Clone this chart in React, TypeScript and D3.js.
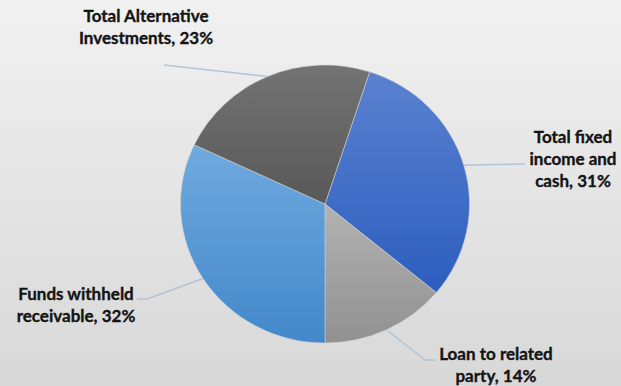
import React from "react";
import * as d3 from "d3";

const categories = [
  "Total fixed income and cash",
  "Loan to related party",
  "Funds withheld receivable",
  "Total Alternative Investments",
];
const values = [31, 14, 32, 23];
const labelLines = [
  ["Total fixed", "income and", "cash, 31%"],
  ["Loan to related", "party, 14%"],
  ["Funds withheld", "receivable, 32%"],
  ["Total Alternative", "Investments, 23%"],
];
const gradientStops = [
  ["#5b81d0", "#2c5ebe"],
  ["#b2b2b2", "#919191"],
  ["#70aadf", "#4288ca"],
  ["#737373", "#585858"],
];

// layout (not data)
const W = 621;
const H = 386;
const CX = 325;
const CY = 204;
const RX = 144.5;
const RY = 139;
const labelPos = [
  { x: 573, y: 137, lineEnd: [525, 164], elbow: null as null | number[] },
  { x: 496, y: 354, lineEnd: [435, 360], elbow: [425, 360] },
  { x: 76, y: 294, lineEnd: [137, 299], elbow: [147, 299] },
  { x: 146, y: 16, lineEnd: [164, 65], elbow: null },
];

export default function App() {
  const pie = d3
    .pie<number>()
    .sort(null)
    .startAngle((18 * Math.PI) / 180)
    .endAngle((378 * Math.PI) / 180);
  const arcs = pie(values);
  const arc = d3.arc<d3.PieArcDatum<number>>().innerRadius(0).outerRadius(RX);
  const sy = RY / RX;

  const edgePoint = (a: d3.PieArcDatum<number>) => {
    const m = (a.startAngle + a.endAngle) / 2;
    return [CX + Math.sin(m) * RX, CY - Math.cos(m) * RY];
  };

  return (
    <div style={{ position: "fixed", left: 0, top: 0 }}>
      <svg width={W} height={H} style={{ display: "block" }}>
        <defs>
          <linearGradient id="bg" x1="0" y1="0" x2="0" y2="1">
            <stop offset="0" stopColor="#f1f1f1" />
            <stop offset="1" stopColor="#d8d8d8" />
          </linearGradient>
          {gradientStops.map((g, i) => (
            <linearGradient key={i} id={`g${i}`} x1="0" y1="0" x2="0" y2="1">
              <stop offset="0" stopColor={g[0]} />
              <stop offset="1" stopColor={g[1]} />
            </linearGradient>
          ))}
        </defs>
        <rect width={W} height={H} fill="url(#bg)" />
        {arcs.map((a, i) => {
          const p = edgePoint(a);
          const lp = labelPos[i];
          const pts = [p, ...(lp.elbow ? [lp.elbow] : []), lp.lineEnd];
          return (
            <path
              key={"l" + i}
              d={d3.line()(pts as [number, number][]) || ""}
              fill="none"
              stroke="#b3c4d8"
              strokeWidth={1.5}
            />
          );
        })}
        <g transform={`translate(${CX},${CY}) scale(1,${sy})`}>
          {arcs.map((a, i) => (
            <path
              key={i}
              d={arc(a) || ""}
              fill={`url(#g${i})`}
              stroke="#cfcfcf"
              strokeWidth={0.6}
            />
          ))}
        </g>
        {labelLines.map((lines, i) => (
          <text
            key={"t" + i}
            textAnchor="middle"
            fontFamily="Lato, 'Open Sans', sans-serif"
            fontWeight={700}
            fontSize={17}
            fill="#141414"
            stroke="#141414"
            strokeWidth={0.35}
          >
            {lines.map((ln, j) => (
              <tspan
                key={j}
                x={labelPos[i].x}
                y={labelPos[i].y + j * 22}
                dy="0.35em"
              >
                {ln}
              </tspan>
            ))}
          </text>
        ))}
      </svg>
    </div>
  );
}
